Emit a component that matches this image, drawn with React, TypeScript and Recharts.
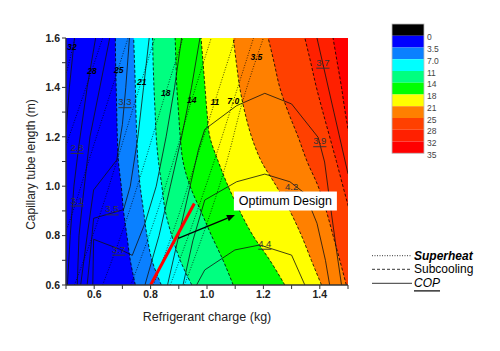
import React from "react";
import { ComposedChart, Area, Line, XAxis, YAxis, ReferenceDot, ReferenceLine } from "recharts";

const FONT = "Arial, 'Liberation Sans', Helvetica, sans-serif";

// capillary tube length (m) rows for the subcooling bands
const lengths = [0.6, 0.7, 0.8, 0.9, 1.0, 1.1, 1.2, 1.3, 1.4, 1.5, 1.6];

// refrigerant charge (kg) of each subcooling contour, one value per length row
const sc7 = [0.746, 0.728, 0.716, 0.704, 0.696, 0.686, 0.682, 0.68, 0.678, 0.676, 0.675];
const sc11 = [0.838, 0.805, 0.787, 0.775, 0.763, 0.755, 0.751, 0.748, 0.746, 0.743, 0.74];
const sc14 = [0.946, 0.905, 0.875, 0.852, 0.84, 0.828, 0.82, 0.816, 0.812, 0.809, 0.807];
const sc18 = [1.093, 1.057, 1.016, 0.978, 0.94, 0.915, 0.905, 0.899, 0.893, 0.89, 0.887];
const sc21 = [1.276, 1.223, 1.163, 1.116, 1.075, 1.04, 1.01, 1.0, 0.993, 0.986, 0.979];
const sc25 = [1.406, 1.37, 1.335, 1.294, 1.246, 1.193, 1.158, 1.134, 1.116, 1.104, 1.093];
const sc28 = [1.494, 1.471, 1.447, 1.423, 1.394, 1.355, 1.323, 1.288, 1.258, 1.238, 1.217];
const sc32 = [1.55, 1.54, 1.525, 1.505, 1.482, 1.459, 1.435, 1.411, 1.388, 1.368, 1.347];
const sc35 = [1.62, 1.6, 1.58, 1.56, 1.54, 1.52, 1.505, 1.49, 1.477, 1.462, 1.447];

const bandEdges = [sc7, sc11, sc14, sc18, sc21, sc25, sc28, sc32, sc35];
const bandColors = ["#0000ff", "#0a80ff", "#00ffff", "#00ff80", "#00ff00", "#ffff00", "#ff8000", "#ff4000", "#ff2000"];
const lastBandColor = "#ff0000";

// superheat contours: charge (kg) at these lengths
const shLengths = [0.6, 0.85, 1.1, 1.35, 1.6];
const sh32 = [0.2, 0.31, 0.4, 0.475, 0.532];
const sh28 = [0.3, 0.4, 0.48, 0.556, 0.63];
const sh25 = [0.42, 0.51, 0.58, 0.65, 0.72];
const sh21 = [0.53, 0.61, 0.68, 0.747, 0.815];
const sh18 = [0.63, 0.71, 0.78, 0.846, 0.915];
const sh14 = [0.73, 0.81, 0.88, 0.946, 1.015];
const sh11 = [0.81, 0.89, 0.96, 1.03, 1.1];
const sh7 = [0.87, 0.95, 1.025, 1.095, 1.165];
const sh35 = [0.92, 1.0, 1.07, 1.128, 1.2];
const superheat = [sh32, sh28, sh25, sh21, sh18, sh14, sh11, sh7, sh35];

// COP contours as [charge, length] pairs
const cop27 = [[0.5, 1.22], [0.512, 1.4], [0.53, 1.6]];
const cop28 = [[0.505, 0.6], [0.515, 0.8], [0.528, 1.0], [0.545, 1.16], [0.575, 1.4], [0.605, 1.6]];
const cop31 = [[0.54, 0.6], [0.546, 0.8], [0.56, 0.95], [0.585, 1.2], [0.62, 1.4], [0.655, 1.6]];
const cop33 = [[0.552, 0.6], [0.575, 0.8], [0.598, 0.985], [0.68, 1.106], [0.7, 1.25], [0.712, 1.4], [0.725, 1.6]];
const cop35 = [[0.575, 0.6], [0.588, 0.75], [0.598, 0.87], [0.704, 0.905], [0.728, 1.0], [0.755, 1.2], [0.775, 1.4], [0.795, 1.6]];
const cop37 = [[0.595, 0.6], [0.598, 0.785], [0.69, 0.745], [0.735, 0.72], [0.78, 0.85], [0.82, 1.0], [0.855, 1.2], [0.885, 1.4], [0.91, 1.6]];
const cop38 = [[0.78, 0.6], [0.83, 0.8], [0.87, 1.0], [0.91, 1.2], [0.945, 1.4], [0.975, 1.6]];
const cop39 = [[0.86, 0.6], [0.9, 0.8], [0.94, 1.0], [0.97, 1.15], [0.992, 1.23], [1.105, 1.326], [1.205, 1.376], [1.3, 1.333], [1.394, 1.198], [1.417, 1.098], [1.44, 0.9], [1.459, 0.742], [1.477, 0.6]];
const cop42 = [[0.915, 0.6], [0.95, 0.78], [0.992, 0.944], [1.105, 1.018], [1.205, 1.049], [1.294, 1.018], [1.347, 0.971], [1.39, 0.85], [1.42, 0.7], [1.435, 0.6]];
const cop44 = [[0.963, 0.6], [0.992, 0.661], [1.099, 0.742], [1.187, 0.762], [1.3, 0.721], [1.347, 0.6]];
const cop37right = [[1.39, 1.6], [1.42, 1.45], [1.45, 1.3], [1.48, 1.15], [1.5, 1.05]];
const copLines = [cop27, cop28, cop31, cop33, cop35, cop37, cop38, cop39, cop42, cop44, cop37right];

const shLabels = [
  { text: "32", x: 0.521, y: 1.563 },
  { text: "28", x: 0.592, y: 1.465 },
  { text: "25", x: 0.687, y: 1.47 },
  { text: "21", x: 0.769, y: 1.423 },
  { text: "18", x: 0.854, y: 1.376 },
  { text: "14", x: 0.946, y: 1.349 },
  { text: "11", x: 1.028, y: 1.34 },
  { text: "7.0", x: 1.093, y: 1.346 },
  { text: "3.5", x: 1.175, y: 1.522 },
];
const copLabels = [
  { text: "2.8", x: 0.539, y: 1.157 },
  { text: "3.1", x: 0.539, y: 0.944 },
  { text: "3.3", x: 0.709, y: 1.342 },
  { text: "3.5", x: 0.663, y: 0.908 },
  { text: "3.7", x: 0.687, y: 0.745 },
  { text: "3.7", x: 1.411, y: 1.502 },
  { text: "3.9", x: 1.4, y: 1.184 },
  { text: "4.2", x: 1.3, y: 1.0 },
  { text: "4.4", x: 1.205, y: 0.769 },
];

const optimumCharge = [0.8, 0.955];
const optimumLength = [0.6, 0.93];
const arrowCharge = [0.898, 1.099];
const arrowLength = [0.789, 0.883];
const note = { text: "Optimum Design", x: 1.278, y: 0.94 };

const xTicks = [0.5, 0.6, 0.7, 0.8, 0.9, 1.0, 1.1, 1.2, 1.3, 1.4, 1.5];
const xTickLabels = ["", "0.6", "", "0.8", "", "1.0", "", "1.2", "", "1.4", ""];
const yTicks = [0.6, 0.7, 0.8, 0.9, 1.0, 1.1, 1.2, 1.3, 1.4, 1.5, 1.6];
const yTickLabels = ["0.6", "", "0.8", "", "1.0", "", "1.2", "", "1.4", "", "1.6"];

const colorbarColors = ["#000000", "#0000ff", "#0a80ff", "#00ffff", "#00ff80", "#00ff00", "#ffff00", "#ff8000", "#ff4000", "#ff2000", "#ff0000"];
const colorbarLabels = ["0", "3.5", "7.0", "11", "14", "18", "21", "25", "28", "32", "35"];

const bandRows = lengths.map((y, i) => {
  const row: any = { y };
  bandEdges.forEach((edge, k) => (row["e" + k] = edge[i]));
  return row;
});
const shData = superheat.map((xs) => xs.map((x, i) => ({ x, y: shLengths[i] })));
const copData = copLines.map((pts) => pts.map(([x, y]) => ({ x, y })));
const optimumData = optimumCharge.map((x, i) => ({ x, y: optimumLength[i] }));

const ArrowShape = (p: any) => {
  const { x1, y1, x2, y2 } = p;
  const a = Math.atan2(y2 - y1, x2 - x1);
  const bx = x2 - 8 * Math.cos(a);
  const by = y2 - 8 * Math.sin(a);
  const w = 3.5;
  const pts = `${x2},${y2} ${bx + w * Math.sin(a)},${by - w * Math.cos(a)} ${bx - w * Math.sin(a)},${by + w * Math.cos(a)}`;
  return (
    <g>
      <line x1={x1} y1={y1} x2={bx} y2={by} stroke="#000" strokeWidth={1.3} />
      <polygon points={pts} fill="#000" />
    </g>
  );
};

const NoteShape = (p: any) => (
  <g>
    <rect x={p.cx - 51.5} y={p.cy - 9.5} width={103} height={19} fill="#fff" />
    <text x={p.cx} y={p.cy} textAnchor="middle" dominantBaseline="central" fontSize={12.5} fill="#000" fontFamily={FONT}>
      {note.text}
    </text>
  </g>
);

const shText = (text: string) => (p: any) => (
  <text x={p.cx} y={p.cy} textAnchor="middle" dominantBaseline="central" fontSize={8.5} fontWeight="bold" fontStyle="italic" fill="#000" fontFamily={FONT}>
    {text}
  </text>
);

const copText = (text: string) => (p: any) => (
  <text x={p.cx} y={p.cy} textAnchor="middle" dominantBaseline="central" fontSize={9.5} textDecoration="underline" fill="#333" fontFamily={FONT}>
    {text}
  </text>
);

export default function App() {
  return (
    <div style={{ position: "absolute", left: 0, top: 0, width: 500, height: 351, background: "#fff", fontFamily: FONT }}>
      <ComposedChart width={500} height={351} layout="vertical" margin={{ top: 38, right: 152, bottom: 26, left: 26 }}>
        <XAxis
          type="number"
          domain={[0.5, 1.5]}
          allowDataOverflow
          ticks={xTicks}
          interval={0}
          tickFormatter={(v: number) => xTickLabels[xTicks.indexOf(v)]}
          height={40}
          tickSize={4}
          tickMargin={2}
          axisLine={{ stroke: "#333", strokeWidth: 1.5 }}
          tickLine={{ stroke: "#333" }}
          tick={{ fontSize: 10.5, fontWeight: "bold", fill: "#222" }}
          label={(p: any) => (
            <text x={p.viewBox.x + p.viewBox.width / 2} y={p.viewBox.y + 32} textAnchor="middle" dominantBaseline="central" fontSize={12.5} fill="#222" fontFamily={FONT}>
              Refrigerant charge (kg)
            </text>
          )}
        />
        <YAxis
          type="number"
          dataKey="y"
          domain={[0.6, 1.6]}
          reversed
          allowDataOverflow
          ticks={yTicks}
          interval={0}
          tickFormatter={(v: number) => yTickLabels[yTicks.indexOf(v)]}
          width={40}
          tickSize={4}
          tickMargin={2}
          axisLine={{ stroke: "#333", strokeWidth: 1.5 }}
          tickLine={{ stroke: "#333" }}
          tick={{ fontSize: 10.5, fontWeight: "bold", fill: "#222" }}
          label={(p: any) => {
            const cx = p.viewBox.x + 5;
            const cy = p.viewBox.y + p.viewBox.height / 2 + 3;
            return (
              <text x={cx} y={cy} transform={`rotate(-90 ${cx} ${cy})`} textAnchor="middle" dominantBaseline="central" fontSize={12} fill="#222" fontFamily={FONT}>
                Capillary tube length (m)
              </text>
            );
          }}
        />
        <XAxis xAxisId="top" orientation="top" type="number" domain={[0.5, 1.5]} allowDataOverflow height={0} tick={false} tickLine={false} axisLine={{ stroke: "#444", strokeWidth: 2 }} />
        <YAxis yAxisId="right" orientation="right" type="number" domain={[0.6, 1.6]} allowDataOverflow width={0} tick={false} tickLine={false} axisLine={{ stroke: "#444", strokeWidth: 2 }} />

        <Area data={bandRows} dataKey={() => 1.5} baseValue={0.5} type="linear" stroke="none" fill={lastBandColor} fillOpacity={1} isAnimationActive={false} />
        {bandColors
          .map((color, k) => ({ color, k }))
          .reverse()
          .map(({ color, k }) => (
            <Area key={"band" + k} data={bandRows} dataKey={"e" + k} baseValue={0.5} type="monotoneY" stroke="none" fill={color} fillOpacity={1} isAnimationActive={false} />
          ))}
        {bandColors.map((_, k) => (
          <Line key={"edge" + k} data={bandRows} dataKey={"e" + k} type="monotoneY" stroke="#000" strokeWidth={0.8} strokeDasharray="3 2" dot={false} isAnimationActive={false} />
        ))}
        {shData.map((d, k) => (
          <Line key={"sh" + k} data={d} dataKey="x" type="monotoneY" stroke="#000" strokeWidth={0.7} strokeDasharray="1 1.6" dot={false} isAnimationActive={false} />
        ))}
        {copData.map((d, k) => (
          <Line key={"cop" + k} data={d} dataKey="x" type="linear" stroke="#111" strokeWidth={0.8} dot={false} isAnimationActive={false} />
        ))}
        <Line data={optimumData} dataKey="x" type="linear" stroke="#ff0000" strokeWidth={3} dot={false} isAnimationActive={false} />
        <ReferenceLine
          segment={[
            { x: arrowCharge[0], y: arrowLength[0] },
            { x: arrowCharge[1], y: arrowLength[1] },
          ]}
          shape={ArrowShape}
        />
        {shLabels.map((l, k) => (
          <ReferenceDot key={"shl" + k} x={l.x} y={l.y} r={0} shape={shText(l.text)} />
        ))}
        {copLabels.map((l, k) => (
          <ReferenceDot key={"copl" + k} x={l.x} y={l.y} r={0} shape={copText(l.text)} />
        ))}
        <ReferenceDot x={note.x} y={note.y} r={0} shape={NoteShape} />
      </ComposedChart>

      <svg width={500} height={351} style={{ position: "absolute", left: 0, top: 0, pointerEvents: "none" }}>
        {colorbarColors.map((c, i) => (
          <rect key={c} x={392} y={24 + i * 11.75} width={32} height={11.75} fill={c} />
        ))}
        <rect x={392} y={24} width={32} height={129.25} fill="none" stroke="#bbb" strokeWidth={0.8} />
        {colorbarLabels.map((t, i) => (
          <text key={t} x={427} y={24 + (i + 1) * 11.75 + 1.5} dominantBaseline="central" fontSize={8.5} fill="#444" fontFamily={FONT}>
            {t}
          </text>
        ))}
        <line x1={372} x2={412} y1={255.7} y2={255.7} stroke="#000" strokeWidth={0.8} strokeDasharray="1 1.5" />
        <text x={414} y={255.7} dominantBaseline="central" fontSize={12} fontWeight="bold" fontStyle="italic" fill="#000" fontFamily={FONT}>
          Superheat
        </text>
        <line x1={372} x2={412} y1={269.3} y2={269.3} stroke="#000" strokeWidth={0.8} strokeDasharray="3 2" />
        <text x={414} y={269.3} dominantBaseline="central" fontSize={12} fill="#000" fontFamily={FONT}>
          Subcooling
        </text>
        <line x1={372} x2={412} y1={283.3} y2={283.3} stroke="#000" strokeWidth={0.8} />
        <text x={414} y={283.3} dominantBaseline="central" fontSize={12} fontStyle="italic" textDecoration="underline" fill="#000" fontFamily={FONT}>
          COP
        </text>
      </svg>
    </div>
  );
}
